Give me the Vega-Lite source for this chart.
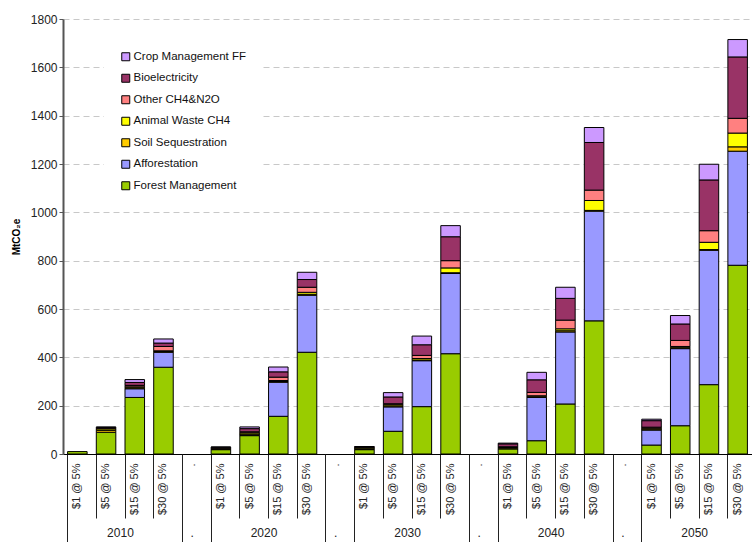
{
"$schema": "https://vega.github.io/schema/vega-lite/v6.json",
"autosize": {"type": "none"},
"padding": {"left": 63, "top": 19, "right": 0, "bottom": 88},
"width": 689,
"height": 435,
"config": {"view": {"stroke": null}, "font": "Liberation Sans"},
"data": {"values": [
{"cat":"2010|$1 @ 5%","series":"Forest Management","value":10},
{"cat":"2010|$5 @ 5%","series":"Forest Management","value":90},
{"cat":"2010|$5 @ 5%","series":"Soil Sequestration","value":8},
{"cat":"2010|$5 @ 5%","series":"Animal Waste CH4","value":6},
{"cat":"2010|$5 @ 5%","series":"Other CH4&N2O","value":3},
{"cat":"2010|$5 @ 5%","series":"Bioelectricity","value":3},
{"cat":"2010|$5 @ 5%","series":"Crop Management FF","value":2},
{"cat":"2010|$15 @ 5%","series":"Forest Management","value":234},
{"cat":"2010|$15 @ 5%","series":"Afforestation","value":36},
{"cat":"2010|$15 @ 5%","series":"Soil Sequestration","value":4},
{"cat":"2010|$15 @ 5%","series":"Animal Waste CH4","value":4},
{"cat":"2010|$15 @ 5%","series":"Other CH4&N2O","value":6},
{"cat":"2010|$15 @ 5%","series":"Bioelectricity","value":12},
{"cat":"2010|$15 @ 5%","series":"Crop Management FF","value":12},
{"cat":"2010|$30 @ 5%","series":"Forest Management","value":359},
{"cat":"2010|$30 @ 5%","series":"Afforestation","value":62},
{"cat":"2010|$30 @ 5%","series":"Soil Sequestration","value":3},
{"cat":"2010|$30 @ 5%","series":"Animal Waste CH4","value":3},
{"cat":"2010|$30 @ 5%","series":"Other CH4&N2O","value":18},
{"cat":"2010|$30 @ 5%","series":"Bioelectricity","value":14},
{"cat":"2010|$30 @ 5%","series":"Crop Management FF","value":17},
{"cat":"2020|$1 @ 5%","series":"Forest Management","value":18},
{"cat":"2020|$1 @ 5%","series":"Soil Sequestration","value":3},
{"cat":"2020|$1 @ 5%","series":"Animal Waste CH4","value":3},
{"cat":"2020|$1 @ 5%","series":"Other CH4&N2O","value":2},
{"cat":"2020|$1 @ 5%","series":"Bioelectricity","value":2},
{"cat":"2020|$1 @ 5%","series":"Crop Management FF","value":1},
{"cat":"2020|$5 @ 5%","series":"Forest Management","value":76},
{"cat":"2020|$5 @ 5%","series":"Afforestation","value":3},
{"cat":"2020|$5 @ 5%","series":"Soil Sequestration","value":4},
{"cat":"2020|$5 @ 5%","series":"Animal Waste CH4","value":5},
{"cat":"2020|$5 @ 5%","series":"Other CH4&N2O","value":4},
{"cat":"2020|$5 @ 5%","series":"Bioelectricity","value":13},
{"cat":"2020|$5 @ 5%","series":"Crop Management FF","value":7},
{"cat":"2020|$15 @ 5%","series":"Forest Management","value":156},
{"cat":"2020|$15 @ 5%","series":"Afforestation","value":141},
{"cat":"2020|$15 @ 5%","series":"Soil Sequestration","value":3},
{"cat":"2020|$15 @ 5%","series":"Animal Waste CH4","value":4},
{"cat":"2020|$15 @ 5%","series":"Other CH4&N2O","value":14},
{"cat":"2020|$15 @ 5%","series":"Bioelectricity","value":22},
{"cat":"2020|$15 @ 5%","series":"Crop Management FF","value":20},
{"cat":"2020|$30 @ 5%","series":"Forest Management","value":421},
{"cat":"2020|$30 @ 5%","series":"Afforestation","value":236},
{"cat":"2020|$30 @ 5%","series":"Soil Sequestration","value":4},
{"cat":"2020|$30 @ 5%","series":"Animal Waste CH4","value":8},
{"cat":"2020|$30 @ 5%","series":"Other CH4&N2O","value":21},
{"cat":"2020|$30 @ 5%","series":"Bioelectricity","value":32},
{"cat":"2020|$30 @ 5%","series":"Crop Management FF","value":30},
{"cat":"2030|$1 @ 5%","series":"Forest Management","value":18},
{"cat":"2030|$1 @ 5%","series":"Soil Sequestration","value":3},
{"cat":"2030|$1 @ 5%","series":"Animal Waste CH4","value":4},
{"cat":"2030|$1 @ 5%","series":"Other CH4&N2O","value":3},
{"cat":"2030|$1 @ 5%","series":"Bioelectricity","value":2},
{"cat":"2030|$1 @ 5%","series":"Crop Management FF","value":1},
{"cat":"2030|$5 @ 5%","series":"Forest Management","value":94},
{"cat":"2030|$5 @ 5%","series":"Afforestation","value":101},
{"cat":"2030|$5 @ 5%","series":"Soil Sequestration","value":4},
{"cat":"2030|$5 @ 5%","series":"Animal Waste CH4","value":5},
{"cat":"2030|$5 @ 5%","series":"Other CH4&N2O","value":4},
{"cat":"2030|$5 @ 5%","series":"Bioelectricity","value":28},
{"cat":"2030|$5 @ 5%","series":"Crop Management FF","value":18},
{"cat":"2030|$15 @ 5%","series":"Forest Management","value":196},
{"cat":"2030|$15 @ 5%","series":"Afforestation","value":190},
{"cat":"2030|$15 @ 5%","series":"Soil Sequestration","value":3},
{"cat":"2030|$15 @ 5%","series":"Animal Waste CH4","value":6},
{"cat":"2030|$15 @ 5%","series":"Other CH4&N2O","value":13},
{"cat":"2030|$15 @ 5%","series":"Bioelectricity","value":44},
{"cat":"2030|$15 @ 5%","series":"Crop Management FF","value":36},
{"cat":"2030|$30 @ 5%","series":"Forest Management","value":415},
{"cat":"2030|$30 @ 5%","series":"Afforestation","value":332},
{"cat":"2030|$30 @ 5%","series":"Soil Sequestration","value":3},
{"cat":"2030|$30 @ 5%","series":"Animal Waste CH4","value":20},
{"cat":"2030|$30 @ 5%","series":"Other CH4&N2O","value":30},
{"cat":"2030|$30 @ 5%","series":"Bioelectricity","value":99},
{"cat":"2030|$30 @ 5%","series":"Crop Management FF","value":46},
{"cat":"2040|$1 @ 5%","series":"Forest Management","value":21},
{"cat":"2040|$1 @ 5%","series":"Soil Sequestration","value":3},
{"cat":"2040|$1 @ 5%","series":"Animal Waste CH4","value":3},
{"cat":"2040|$1 @ 5%","series":"Other CH4&N2O","value":3},
{"cat":"2040|$1 @ 5%","series":"Bioelectricity","value":12},
{"cat":"2040|$1 @ 5%","series":"Crop Management FF","value":3},
{"cat":"2040|$5 @ 5%","series":"Forest Management","value":55},
{"cat":"2040|$5 @ 5%","series":"Afforestation","value":179},
{"cat":"2040|$5 @ 5%","series":"Soil Sequestration","value":3},
{"cat":"2040|$5 @ 5%","series":"Animal Waste CH4","value":4},
{"cat":"2040|$5 @ 5%","series":"Other CH4&N2O","value":14},
{"cat":"2040|$5 @ 5%","series":"Bioelectricity","value":52},
{"cat":"2040|$5 @ 5%","series":"Crop Management FF","value":31},
{"cat":"2040|$15 @ 5%","series":"Forest Management","value":207},
{"cat":"2040|$15 @ 5%","series":"Afforestation","value":298},
{"cat":"2040|$15 @ 5%","series":"Soil Sequestration","value":5},
{"cat":"2040|$15 @ 5%","series":"Animal Waste CH4","value":8},
{"cat":"2040|$15 @ 5%","series":"Other CH4&N2O","value":36},
{"cat":"2040|$15 @ 5%","series":"Bioelectricity","value":90},
{"cat":"2040|$15 @ 5%","series":"Crop Management FF","value":46},
{"cat":"2040|$30 @ 5%","series":"Forest Management","value":551},
{"cat":"2040|$30 @ 5%","series":"Afforestation","value":454},
{"cat":"2040|$30 @ 5%","series":"Soil Sequestration","value":3},
{"cat":"2040|$30 @ 5%","series":"Animal Waste CH4","value":41},
{"cat":"2040|$30 @ 5%","series":"Other CH4&N2O","value":43},
{"cat":"2040|$30 @ 5%","series":"Bioelectricity","value":197},
{"cat":"2040|$30 @ 5%","series":"Crop Management FF","value":62},
{"cat":"2050|$1 @ 5%","series":"Forest Management","value":37},
{"cat":"2050|$1 @ 5%","series":"Afforestation","value":62},
{"cat":"2050|$1 @ 5%","series":"Soil Sequestration","value":4},
{"cat":"2050|$1 @ 5%","series":"Animal Waste CH4","value":4},
{"cat":"2050|$1 @ 5%","series":"Other CH4&N2O","value":4},
{"cat":"2050|$1 @ 5%","series":"Bioelectricity","value":27},
{"cat":"2050|$1 @ 5%","series":"Crop Management FF","value":6},
{"cat":"2050|$5 @ 5%","series":"Forest Management","value":117},
{"cat":"2050|$5 @ 5%","series":"Afforestation","value":319},
{"cat":"2050|$5 @ 5%","series":"Soil Sequestration","value":4},
{"cat":"2050|$5 @ 5%","series":"Animal Waste CH4","value":5},
{"cat":"2050|$5 @ 5%","series":"Other CH4&N2O","value":25},
{"cat":"2050|$5 @ 5%","series":"Bioelectricity","value":68},
{"cat":"2050|$5 @ 5%","series":"Crop Management FF","value":35},
{"cat":"2050|$15 @ 5%","series":"Forest Management","value":287},
{"cat":"2050|$15 @ 5%","series":"Afforestation","value":556},
{"cat":"2050|$15 @ 5%","series":"Soil Sequestration","value":3},
{"cat":"2050|$15 @ 5%","series":"Animal Waste CH4","value":30},
{"cat":"2050|$15 @ 5%","series":"Other CH4&N2O","value":48},
{"cat":"2050|$15 @ 5%","series":"Bioelectricity","value":210},
{"cat":"2050|$15 @ 5%","series":"Crop Management FF","value":65},
{"cat":"2050|$30 @ 5%","series":"Forest Management","value":781},
{"cat":"2050|$30 @ 5%","series":"Afforestation","value":472},
{"cat":"2050|$30 @ 5%","series":"Soil Sequestration","value":18},
{"cat":"2050|$30 @ 5%","series":"Animal Waste CH4","value":57},
{"cat":"2050|$30 @ 5%","series":"Other CH4&N2O","value":61},
{"cat":"2050|$30 @ 5%","series":"Bioelectricity","value":254},
{"cat":"2050|$30 @ 5%","series":"Crop Management FF","value":72}
]},
"transform": [
{"calculate": "indexof(['Forest Management','Afforestation','Soil Sequestration','Animal Waste CH4','Other CH4&N2O','Bioelectricity','Crop Management FF'], datum.series)", "as": "stackOrder"}
],
"layer": [
{
"mark": {"type": "bar", "stroke": "#000", "strokeWidth": 1},
"encoding": {
"x": {"field": "cat", "type": "nominal",
 "scale": {"domain": ["2010|$1 @ 5%","2010|$5 @ 5%","2010|$15 @ 5%","2010|$30 @ 5%","2010|.","2020|$1 @ 5%","2020|$5 @ 5%","2020|$15 @ 5%","2020|$30 @ 5%","2020|.","2030|$1 @ 5%","2030|$5 @ 5%","2030|$15 @ 5%","2030|$30 @ 5%","2030|.","2040|$1 @ 5%","2040|$5 @ 5%","2040|$15 @ 5%","2040|$30 @ 5%","2040|.","2050|$1 @ 5%","2050|$5 @ 5%","2050|$15 @ 5%","2050|$30 @ 5%"], "paddingInner": 0.32, "paddingOuter": 0.16},
 "axis": {"orient": "bottom", "title": null, "labelExpr": "split(datum.value, '|')[1]", "labelAngle": -90, "labelFontSize": 11, "labelColor": "#222", "labelPadding": -55, "bandPosition": 0, "tickExtra": false, "tickSize": 64, "tickColor": "#222", "tickWidth": 1, "domainColor": "#000", "domainWidth": 1, "labelOverlap": false}},
"y": {"field": "value", "type": "quantitative", "stack": "zero",
 "scale": {"domain": [0, 1800], "nice": false},
 "axis": {"title": "MtCO₂e", "titleFontSize": 10, "titleFontWeight": "bold", "titleColor": "#000", "titlePadding": 9, "format": "d", "values": [0,200,400,600,800,1000,1200,1400,1600,1800], "grid": true, "gridDash": [6, 4], "gridColor": "#c8c8c8", "gridWidth": 1, "domainColor": "#555", "domainWidth": 2, "tickColor": "#555", "tickSize": 4, "labelFontSize": 12, "labelColor": "#222", "labelPadding": 2}},
"order": {"field": "stackOrder", "type": "quantitative", "sort": "ascending"},
"color": {"field": "series", "type": "nominal",
 "sort": ["Crop Management FF","Bioelectricity","Other CH4&N2O","Animal Waste CH4","Soil Sequestration","Afforestation","Forest Management"],
 "scale": {"domain": ["Crop Management FF","Bioelectricity","Other CH4&N2O","Animal Waste CH4","Soil Sequestration","Afforestation","Forest Management"], "range": ["#CC99FF","#993366","#FF8080","#FFFF00","#FFCC00","#9999FF","#99CC00"]},
 "legend": {"orient": "none", "legendX": 41, "legendY": 16, "title": null, "fillColor": "#fff", "padding": 16, "symbolType": "square", "symbolSize": 64, "symbolStrokeColor": "#000", "symbolStrokeWidth": 1, "symbolOpacity": 1, "labelFontSize": 11.5, "labelColor": "#111", "labelOffset": 2, "rowPadding": 8.5}}
}
},
{
"mark": {"type": "bar", "opacity": 0},
"encoding": {
"x": {"field": "cat", "type": "nominal",
 "scale": {"domain": ["2010|$1 @ 5%","2010|$5 @ 5%","2010|$15 @ 5%","2010|$30 @ 5%","2010|.","2020|$1 @ 5%","2020|$5 @ 5%","2020|$15 @ 5%","2020|$30 @ 5%","2020|.","2030|$1 @ 5%","2030|$5 @ 5%","2030|$15 @ 5%","2030|$30 @ 5%","2030|.","2040|$1 @ 5%","2040|$5 @ 5%","2040|$15 @ 5%","2040|$30 @ 5%","2040|.","2050|$1 @ 5%","2050|$5 @ 5%","2050|$15 @ 5%","2050|$30 @ 5%"], "paddingInner": 0.32, "paddingOuter": 0.16},
 "axis": {"orient": "bottom", "title": null, "domain": false, "labelExpr": "indexof(datum.value, '|$5 @') >= 0 ? split(datum.value, '|')[0] : (indexof(datum.value, '|.') >= 0 ? '.' : '')", "labelAngle": 0, "labelFontSize": 12, "labelColor": "#222", "labelBaseline": "top", "labelPadding": -15, "labelOffset": {"condition": {"test": "indexof(datum.value, '|$5 @') >= 0", "value": 14.4}, "value": 0}, "bandPosition": 0, "tickExtra": false, "tickSize": 88, "tickColor": "#222", "tickWidth": 1, "tickOpacity": {"condition": {"test": "indexof(datum.value, '|$1 @') >= 0 || indexof(datum.value, '|.') >= 0", "value": 1}, "value": 0}, "labelOverlap": false}},
"y": {"field": "value", "type": "quantitative", "stack": "zero"}
}
}
],
"resolve": {"axis": {"x": "independent"}}
}
